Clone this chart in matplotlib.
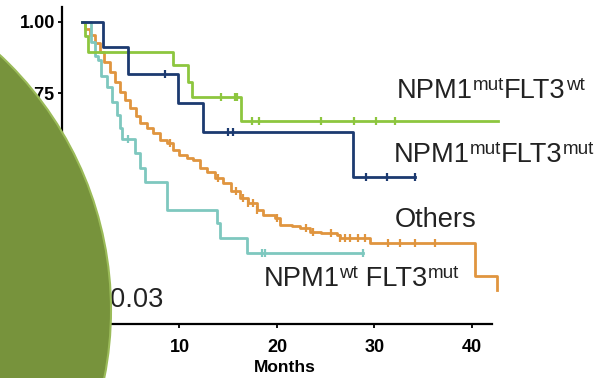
import numpy as np
import matplotlib
matplotlib.use('Agg')
import matplotlib.pyplot as plt
from matplotlib.patches import Circle

plt.rcParams['font.family'] = ['Liberation Sans', 'DejaVu Sans']

# survival curves (months, survival)
mut_wt_t = [0, 0.3, 0.6, 9.3, 10.9, 11.3, 16.3, 42.7]
mut_wt_s = [1.0, 0.95, 0.895, 0.848, 0.79, 0.735, 0.654, 0.654]
mut_wt_cens = [14.3, 15.7, 15.9, 17.4, 18.2, 24.5, 27.9, 30.2, 32.1]

mut_mut_t = [0, 2.2, 4.7, 9.8, 12.4, 27.8, 34.2]
mut_mut_s = [1.0, 0.91, 0.816, 0.716, 0.616, 0.458, 0.458]
mut_mut_cens = [8.5, 15.0, 15.5, 29.1, 31.3, 34.2]

wt_mut_t = [0, 0.9, 1.3, 1.6, 2.0, 2.6, 3.1, 3.6, 3.9, 4.1, 5.4, 5.9, 6.5,
            8.7, 13.8, 14.2, 16.9, 28.8]
wt_mut_s = [1.0, 0.93, 0.88, 0.866, 0.81, 0.77, 0.72, 0.674, 0.63, 0.59, 0.54,
            0.49, 0.44, 0.342, 0.297, 0.244, 0.192, 0.192]
wt_mut_cens = [4.7, 18.5, 18.8, 28.8]

others_t = [0, 0.3, 0.8, 1.3, 1.8, 2.3, 2.9, 3.4, 3.9, 4.4, 4.9, 5.5, 6.0,
            6.7, 7.3, 8.0, 8.7, 9.3, 10.0, 10.8, 11.4, 12.1, 12.8, 13.6, 14.5,
            15.3, 16.2, 17.0, 17.9, 18.6, 19.8, 20.3, 21.5, 22.4, 23.4, 24.5,
            26.2, 26.5, 29.5, 40.3, 42.6]
others_s = [1.0, 0.975, 0.953, 0.925, 0.895, 0.86, 0.825, 0.79, 0.755, 0.725,
            0.698, 0.67, 0.645, 0.628, 0.61, 0.587, 0.575, 0.55, 0.535, 0.525,
            0.517, 0.49, 0.475, 0.455, 0.436, 0.41, 0.384, 0.365, 0.342, 0.325,
            0.314, 0.29, 0.285, 0.28, 0.265, 0.262, 0.255, 0.244, 0.227, 0.112,
            0.063]
others_cens = [9.0, 14.0, 15.8, 16.5, 17.0, 17.5, 18.0, 20.0, 23.0, 23.7,
               25.5, 26.5, 27.0, 27.5, 28.3, 29.0, 31.4, 32.6, 34.2, 36.2]

groups = [
    (others_t, others_s, others_cens, '#E0953F'),
    (wt_mut_t, wt_mut_s, wt_mut_cens, '#7EC8BF'),
    (mut_wt_t, mut_wt_s, mut_wt_cens, '#8DC63F'),
    (mut_mut_t, mut_mut_s, mut_mut_cens, '#1C3A70'),
]

fig = plt.figure(figsize=(5.97, 3.78), dpi=100)
ax = fig.add_axes([62 / 597, 1 - 324 / 378, 429.5 / 597, 317 / 378])

for t, s, cens, col in groups:
    ax.step(t, s, where='post', color=col, lw=2, clip_on=False)
    t = np.array(t)
    s = np.array(s)
    idx = np.searchsorted(t, cens, side='right') - 1
    ax.plot(cens, s[idx], ls='none', marker='|', ms=6, mew=1.6, color=col,
            clip_on=False)

ax.set_xlim(-2.05, 42)
ax.set_ylim(-0.056, 1.051)
ax.spines['top'].set_visible(False)
ax.spines['right'].set_visible(False)
ax.spines['left'].set_linewidth(1.6)
ax.spines['bottom'].set_linewidth(1.6)
ax.set_xticks([10, 20, 30, 40])
ax.set_yticks([0, 0.25, 0.5, 0.75, 1.0])
ax.set_yticklabels(['0', '.25', '.50', '.75', '1.00'])
ax.tick_params(axis='both', length=3, width=1.3, labelsize=13)
ax.tick_params(axis='x', pad=8)
ax.tick_params(axis='y', pad=2)
for lab in ax.get_xticklabels() + ax.get_yticklabels():
    lab.set_fontweight('bold')
ax.set_xlabel('Months', fontsize=12.5, fontweight='bold')
ax.xaxis.set_label_coords((285 - 62) / 429.5, -0.115)

FS = 19.6
SUP = 13.6
TXT = '#222222'


def label(x, y, parts):
    # parts: list of (text, is_superscript)
    first = ax.text(x, y, parts[0][0], fontsize=FS, va='bottom', color=TXT)
    main = first
    prev = first
    for txt, sup in parts[1:]:
        if sup:
            prev = ax.annotate(txt, xy=(1, 0), xycoords=(prev, main),
                               xytext=(0, 10), textcoords='offset points',
                               fontsize=SUP, va='baseline', color=TXT)
        else:
            main = ax.annotate(txt, xy=(1, 0), xycoords=(prev, main),
                               fontsize=FS, va='bottom', color=TXT)
            prev = main


# y positions are the bottom of the text box (baseline minus descent)
label(32.3, 0.712, [('NPM1', 0), ('mut', 1), ('FLT3', 0), ('wt', 1)])
label(32.0, 0.490, [('NPM1', 0), ('mut', 1), ('FLT3', 0), ('mut', 1)])
label(32.1, 0.263, [('Others', 0)])
label(18.6, 0.057, [('NPM1', 0), ('wt', 1), (' FLT3', 0), ('mut', 1)])
ax.text(8.3, 0.003, 'P = 0.03', fontsize=FS, va='baseline', ha='right',
        color=TXT)

# green circle covering the left part
ov = fig.add_axes([0, 0, 1, 1])
ov.set_xlim(0, 597)
ov.set_ylim(378, 0)
ov.axis('off')
ov.patch.set_visible(False)
ov.add_patch(Circle((-237, 310), 348, facecolor='#77933C', edgecolor='#9BBB59',
                    lw=1.5))

fig.savefig('out.png', dpi=100)
